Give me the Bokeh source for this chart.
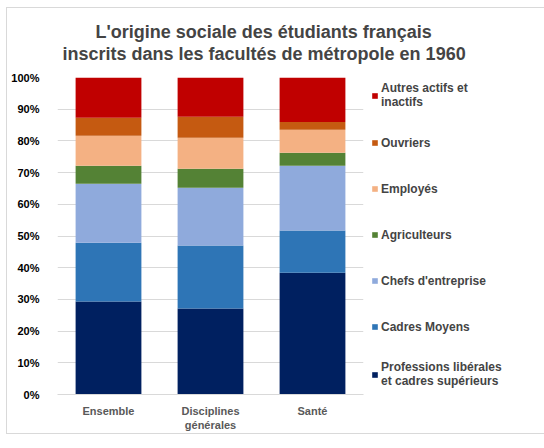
from bokeh.plotting import figure
from bokeh.models import ColumnDataSource, FixedTicker, NumeralTickFormatter, Legend, LegendItem, Title
from bokeh.embed import file_html
from bokeh.resources import INLINE

categories = ["Ensemble", "Disciplines\ngénérales", "Santé"]
series = ["Professions libérales\net cadres supérieurs", "Cadres Moyens", "Chefs d'entreprise",
          "Agriculteurs", "Employés", "Ouvriers", "Autres actifs et\ninactifs"]
prof = [29.3, 27.1, 38.4]
cadres_moyens = [18.6, 19.9, 13.3]
chefs = [18.6, 18.2, 20.5]
agriculteurs = [5.7, 6.0, 4.1]
employes = [9.4, 9.8, 7.2]
ouvriers = [5.7, 6.6, 2.5]
autres = [12.7, 12.4, 14.0]
colors = ["#002060", "#2E75B6", "#8FAADC", "#548235", "#F4B183", "#C55A11", "#C00000"]

keys = ["prof", "cm", "chefs", "agri", "emp", "ouv", "autres"]
vals = [prof, cadres_moyens, chefs, agriculteurs, employes, ouvriers, autres]
data = {"cat": categories}
for k, v in zip(keys, vals):
    data[k] = [x / 100 for x in v]
src = ColumnDataSource(data)

FONT = "Liberation Sans"

p = figure(x_range=categories, y_range=(0, 1), frame_width=306, frame_height=317,
           output_backend="svg", toolbar_location=None,
           min_border_left=50, min_border_right=156, min_border_top=69, min_border_bottom=34)
p.styles = {"border": "1px solid #d9d9d9", "margin": "7px 0 0 6px"}
p.outline_line_color = None
p.x_range.range_padding = 0

rs = p.vbar_stack(keys, x="cat", width=0.645, source=src, color=colors, line_color=None)

# title, two lines (+ an empty spacer title next to the frame)
p.title.text = "L'origine sociale des étudiants français"
p.title.text_font = FONT
p.title.text_font_size = "18px"
p.title.align = "left"
p.title.offset = 38
p.title.standoff = 0
spacer = Title(text=" ", text_font_size="2px", standoff=10)
t2 = Title(text="inscrits dans les facultés de métropole en 1960", text_font=FONT,
           text_font_size="18px", align="left", offset=5, standoff=0)
p.add_layout(spacer, "above")
p.add_layout(t2, "above")

# axes
p.yaxis.ticker = FixedTicker(ticks=[i / 10 for i in range(11)])
p.yaxis.formatter = NumeralTickFormatter(format="0%")
p.yaxis.axis_line_color = None
p.yaxis.major_tick_line_color = None
p.yaxis.minor_tick_line_color = None
p.yaxis.major_label_text_font = FONT
p.yaxis.major_label_text_font_style = "bold"
p.yaxis.major_label_text_font_size = "11px"
p.yaxis.major_label_text_color = "black"
p.yaxis.major_label_standoff = 12

p.xaxis.axis_line_color = "#d9d9d9"
p.xaxis.major_tick_line_color = None
p.xaxis.major_label_text_font = FONT
p.xaxis.major_label_text_font_style = "bold"
p.xaxis.major_label_text_font_size = "11px"
p.xaxis.major_label_text_color = "#595959"
p.xaxis.major_label_standoff = 4

p.xgrid.grid_line_color = None
p.ygrid.grid_line_color = "#d9d9d9"

items = [LegendItem(label=s, renderers=[r]) for s, r in zip(series, rs)][::-1]
legend = Legend(items=items, location=(8, 6), label_text_font=FONT, label_text_font_size="12px",
                label_text_font_style="bold", label_text_line_height=1.05,
                glyph_width=7, glyph_height=7, label_standoff=3,
                label_height=25, spacing=21, border_line_color=None, background_fill_alpha=0,
                padding=0, margin=0)
p.add_layout(legend, "right")

open("out.html", "w").write(file_html(p, INLINE))
